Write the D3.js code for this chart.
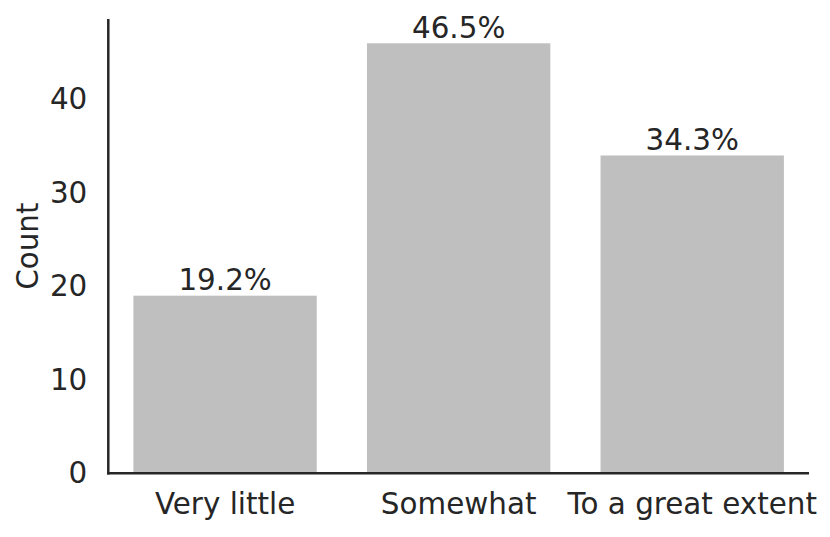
<!DOCTYPE html>
<html><head><meta charset="utf-8">
<script src="https://cdn.jsdelivr.net/npm/d3@7"></script>
<style>body{margin:0;background:#fff}svg{display:block}text{font-family:"DejaVu Sans",sans-serif;fill:#262626}</style>
</head><body><svg id="c" width="830" height="537"></svg>
<script>
const categories = ["Very little", "Somewhat", "To a great extent"];
const counts = [19, 46, 34];
const pctLabels = ["19.2%", "46.5%", "34.3%"];
const yTicks = [0, 10, 20, 30, 40];

const svg = d3.select("#c");
const L = 108.3, R = 809, T = 19, B = 473.3;
const fs = 29.4;
const x = d3.scaleBand().domain(categories).range([L, R]).paddingInner(0.215).paddingOuter(0.1075);
const y = d3.scaleLinear().domain([0, 48.6]).range([B, T]);

svg.selectAll("rect.bar").data(categories).join("rect").attr("class","bar")
  .attr("x", d => x(d)).attr("width", x.bandwidth())
  .attr("y", (d,i) => y(counts[i])).attr("height", (d,i) => B - y(counts[i]))
  .attr("fill", "#bfbfbf");

svg.selectAll("text.pct").data(categories).join("text").attr("class","pct")
  .attr("x", d => x(d) + x.bandwidth()/2).attr("y", (d,i) => y(counts[i]) - 5.5)
  .attr("text-anchor","middle").attr("font-size", fs).text((d,i) => pctLabels[i]);

const yAxis = svg.append("g").attr("transform", `translate(${L},0)`)
  .call(d3.axisLeft(y).tickValues(yTicks).tickSize(0).tickPadding(21));
yAxis.select(".domain").remove();
yAxis.selectAll("text").attr("font-size", fs).attr("font-family","DejaVu Sans").attr("fill","#262626");

const xAxis = svg.append("g").attr("transform", `translate(0,${B})`)
  .call(d3.axisBottom(x).tickSize(0).tickPadding(20));
xAxis.select(".domain").remove();
xAxis.selectAll("text").attr("font-size", fs).attr("font-family","DejaVu Sans").attr("fill","#262626");

svg.append("line").attr("x1", L).attr("x2", L).attr("y1", T).attr("y2", B + 1.2)
  .attr("stroke", "#262626").attr("stroke-width", 2.5);
svg.append("line").attr("x1", L - 1.2).attr("x2", R).attr("y1", B).attr("y2", B)
  .attr("stroke", "#262626").attr("stroke-width", 2.5);

svg.append("text").attr("transform", `translate(38,${(T+B)/2}) rotate(-90)`)
  .attr("text-anchor","middle").attr("font-size", fs).text("Count");
</script></body></html>
